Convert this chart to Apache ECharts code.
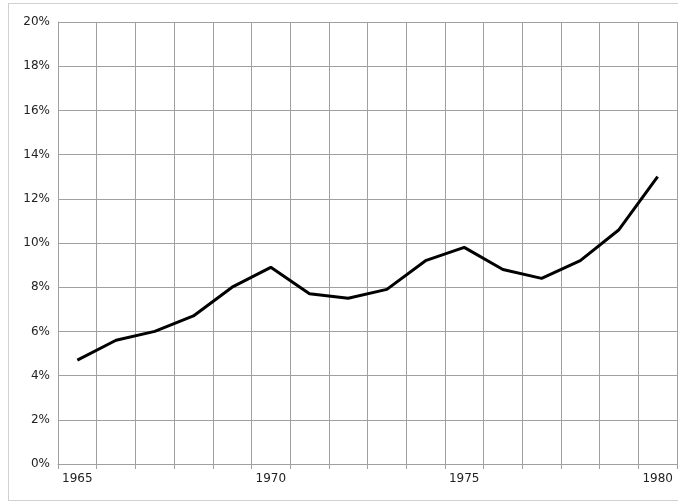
<html>
<head>
<meta charset="utf-8">
<script src="https://cdn.jsdelivr.net/npm/echarts@6/dist/echarts.min.js"></script>
<style>body{margin:0;background:#fff}#outer{position:absolute;left:8px;top:3px;width:680px;height:498px;border:1px solid #d0d0d0;box-sizing:border-box}</style>
</head>
<body>
<div id="outer"></div>
<div id="c" style="width:678px;height:502px;position:absolute;left:0;top:0"></div>
<script>
var years = ['1965','1966','1967','1968','1969','1970','1971','1972','1973','1974','1975','1976','1977','1978','1979','1980'];
var rates = [4.7, 5.6, 6.0, 6.7, 8.0, 8.9, 7.7, 7.5, 7.9, 9.2, 9.8, 8.8, 8.4, 9.2, 10.6, 13.0];
var labelYears = ['1965','1970','1975','1980'];

var chart = echarts.init(document.getElementById('c'));
chart.setOption({
    animation: false,
    grid: {left: 58, right: 1, top: 22, bottom: 38},
    xAxis: {
        type: 'category',
        data: years,
        boundaryGap: true,
        axisLine: {lineStyle: {color: '#a0a0a0'}},
        axisTick: {show: true, length: 5, lineStyle: {color: '#a0a0a0'}},
        splitLine: {show: true, interval: 0, lineStyle: {color: '#a0a0a0'}},
        axisLabel: {
            interval: 0, color: '#222', fontFamily: 'DejaVu Sans', fontSize: 12, margin: 9,
            formatter: function (v) { return labelYears.indexOf(v) >= 0 ? v : ''; }
        }
    },
    yAxis: {
        type: 'value', min: 0, max: 20, interval: 2,
        axisLine: {show: true, lineStyle: {color: '#a0a0a0'}},
        axisTick: {show: false},
        splitLine: {lineStyle: {color: '#a0a0a0'}},
        axisLabel: {color: '#222', fontFamily: 'DejaVu Sans', fontSize: 12, margin: 8, formatter: '{value}%'}
    },
    series: [{
        type: 'line', data: rates, symbol: 'none',
        lineStyle: {color: '#000', width: 3}
    }]
});
</script>
</body>
</html>
